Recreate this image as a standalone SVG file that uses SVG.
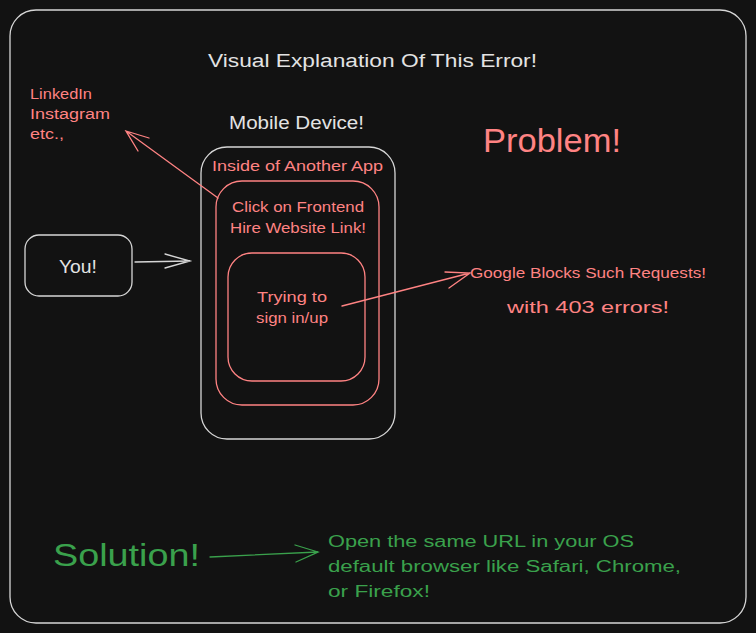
<svg xmlns="http://www.w3.org/2000/svg" width="756" height="633" viewBox="0 0 756 633">
<style>
text{font-family:"Liberation Sans",Arial,sans-serif}
.w{fill:#e3e3e3}.r{fill:#ff8383}.g{fill:#3aa14c}
.sw{fill:none;stroke:#d6d6d6;stroke-width:1.3}
.sr{fill:none;stroke:#ff8383;stroke-width:1.3}
.sg{fill:none;stroke:#3aa14c;stroke-width:1.3}
.c{text-anchor:middle}
</style>
<rect width="756" height="633" fill="#121212"/>
<g id="frame"><rect class="sw" x="10" y="10" width="736" height="613" rx="26"/></g>
<g id="title"><text class="w" x="208" y="67" font-size="18" textLength="329" lengthAdjust="spacingAndGlyphs">Visual Explanation Of This Error!</text></g>
<g id="apps" class="r" font-size="14">
<text x="30" y="99" textLength="62" lengthAdjust="spacingAndGlyphs">LinkedIn</text>
<text x="30" y="119" textLength="80" lengthAdjust="spacingAndGlyphs">Instagram</text>
<text x="30" y="139" textLength="34" lengthAdjust="spacingAndGlyphs">etc.,</text>
</g>
<g id="mobile-label"><text class="w" x="229" y="129" font-size="18" textLength="135" lengthAdjust="spacingAndGlyphs">Mobile Device!</text></g>
<g id="problem"><text class="r" x="483" y="152" font-size="33" textLength="138" lengthAdjust="spacingAndGlyphs">Problem!</text></g>
<g id="device"><rect class="sw" x="201" y="147" width="194" height="292" rx="26"/></g>
<g id="app"><text class="r" x="212" y="171" font-size="14" textLength="171" lengthAdjust="spacingAndGlyphs">Inside of Another App</text></g>
<g id="click">
<rect class="sr" x="216" y="181" width="163" height="224" rx="26"/>
<text class="r" x="232" y="212" font-size="14" textLength="132" lengthAdjust="spacingAndGlyphs">Click on Frontend</text>
<text class="r" x="230" y="233" font-size="14" textLength="136" lengthAdjust="spacingAndGlyphs">Hire Website Link!</text>
</g>
<g id="signin">
<rect class="sr" x="228" y="253" width="137" height="128" rx="24"/>
<text class="r" x="257" y="302" font-size="14" textLength="70" lengthAdjust="spacingAndGlyphs">Trying to</text>
<text class="r" x="256" y="323" font-size="14" textLength="72" lengthAdjust="spacingAndGlyphs">sign in/up</text>
</g>
<g id="you">
<rect class="sw" x="25" y="235" width="107" height="61" rx="14"/>
<text class="w" x="59" y="273" font-size="18" textLength="38" lengthAdjust="spacingAndGlyphs">You!</text>
</g>
<g id="google">
<text class="r" x="470" y="278" font-size="14" textLength="236" lengthAdjust="spacingAndGlyphs">Google Blocks Such Requests!</text>
<text class="r" x="507" y="313" font-size="17" textLength="162" lengthAdjust="spacingAndGlyphs">with 403 errors!</text>
</g>
<g id="solution"><text class="g" x="53" y="566" font-size="32" textLength="147" lengthAdjust="spacingAndGlyphs">Solution!</text></g>
<g id="fix" class="g" font-size="16">
<text x="328" y="547" textLength="306" lengthAdjust="spacingAndGlyphs">Open the same URL in your OS</text>
<text x="328" y="572" textLength="353" lengthAdjust="spacingAndGlyphs">default browser like Safari, Chrome,</text>
<text x="328" y="597" textLength="102" lengthAdjust="spacingAndGlyphs">or Firefox!</text>
</g>
<g id="connectors" stroke-linecap="round">
<path class="sw" d="M135 262 L190 261 M165 254 L190 261 L165 268"/>
<path class="sr" d="M218 198 L126 131 M149 138 L126 131 L138 151"/>
<path class="sr" d="M342 306 L470 273 M445 272 L470 273 L449 288"/>
<path class="sg" d="M210 557 L318 552 M295 545 L318 552 L296 562"/>
</g>
</svg>
